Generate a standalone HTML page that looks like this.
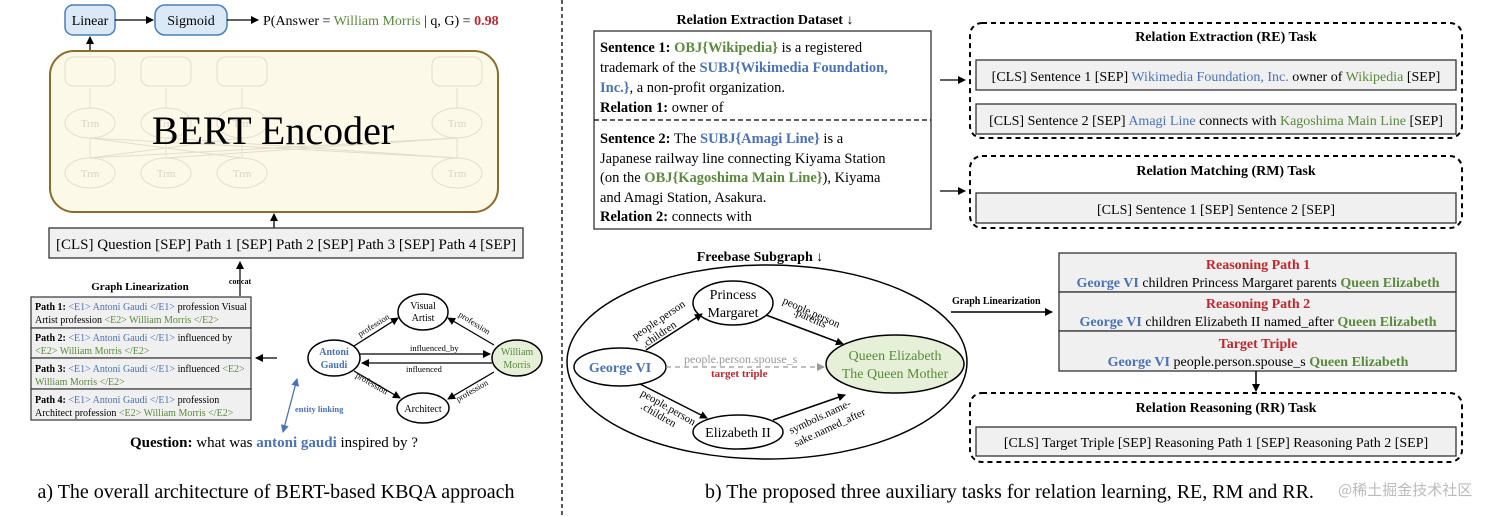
<!DOCTYPE html>
<html><head><meta charset="utf-8"><style>
html,body{margin:0;padding:0;background:#fff;}
svg{display:block;font-family:"Liberation Serif","Noto Serif CJK SC",serif;}
.b{font-weight:bold}
.bl{fill:#4a72b8}.gr{fill:#5a8a3c}.rd{fill:#c0282e}
</style></head><body>
<svg width="1512" height="517" viewBox="0 0 1512 517" xmlns="http://www.w3.org/2000/svg">
<defs>
<marker id="a" markerWidth="8" markerHeight="8" refX="7" refY="4" orient="auto" markerUnits="userSpaceOnUse"><path d="M0,0 L8,4 L0,8 z" fill="#000"/></marker>
<marker id="ag" markerWidth="8" markerHeight="8" refX="7" refY="4" orient="auto" markerUnits="userSpaceOnUse"><path d="M0,0 L8,4 L0,8 z" fill="#999"/></marker>
<marker id="ab" markerWidth="8" markerHeight="8" refX="7" refY="4" orient="auto-start-reverse" markerUnits="userSpaceOnUse"><path d="M0,0 L8,4 L0,8 z" fill="#4a72b8"/></marker>
</defs>
<rect x="65" y="5" width="50" height="30" rx="8" fill="#dbe8f5" stroke="#4a7fb5" stroke-width="1.5"/>
<text x="90" y="25" font-size="14" text-anchor="middle">Linear</text>
<rect x="155" y="5" width="72" height="30" rx="10" fill="#dbe8f5" stroke="#4a7fb5" stroke-width="1.5"/>
<text x="191" y="25" font-size="14" text-anchor="middle">Sigmoid</text>
<line x1="115" y1="20" x2="153" y2="20" stroke="#000" stroke-width="1.3" marker-end="url(#a)"/>
<line x1="227" y1="20" x2="258" y2="20" stroke="#000" stroke-width="1.3" marker-end="url(#a)"/>
<text x="263" y="25" font-size="14">P(Answer = <tspan class="gr">William Morris</tspan> | q, G) = <tspan class="rd b">0.98</tspan></text>
<line x1="90" y1="50" x2="90" y2="37" stroke="#000" stroke-width="1.3" marker-end="url(#a)"/>
<rect x="50" y="51" width="448" height="161" rx="24" fill="#fdf9e8" stroke="#8a6d2a" stroke-width="2"/>
<g stroke="#e2ddcc" fill="none" stroke-width="1">
<rect x="65" y="57" width="50" height="29" rx="8"/><rect x="141" y="57" width="50" height="29" rx="8"/><rect x="217" y="57" width="50" height="29" rx="8"/><rect x="432" y="57" width="50" height="29" rx="8"/>
<ellipse cx="90" cy="123" rx="25" ry="15"/><ellipse cx="166" cy="123" rx="25" ry="15"/><ellipse cx="242" cy="123" rx="25" ry="15"/><ellipse cx="457" cy="123" rx="25" ry="15"/>
<ellipse cx="90" cy="173" rx="25" ry="15"/><ellipse cx="166" cy="173" rx="25" ry="15"/><ellipse cx="242" cy="173" rx="25" ry="15"/><ellipse cx="457" cy="173" rx="25" ry="15"/>
<line x1="90" y1="108" x2="90" y2="88"/><line x1="166" y1="108" x2="166" y2="88"/><line x1="242" y1="108" x2="242" y2="88"/><line x1="457" y1="108" x2="457" y2="88"/>
<line x1="90" y1="158" x2="90" y2="138"/><line x1="166" y1="158" x2="166" y2="138"/><line x1="242" y1="158" x2="242" y2="138"/><line x1="457" y1="158" x2="457" y2="138"/>
<line x1="90" y1="158" x2="457" y2="138"/><line x1="457" y1="158" x2="90" y2="138"/><line x1="166" y1="158" x2="457" y2="138"/><line x1="242" y1="158" x2="90" y2="138"/><line x1="90" y1="158" x2="242" y2="138"/><line x1="457" y1="158" x2="166" y2="138"/>
</g>
<g font-size="11" fill="#d8d3c2" text-anchor="middle"><text x="90" y="127">Trm</text><text x="166" y="127">Trm</text><text x="242" y="127">Trm</text><text x="457" y="127">Trm</text><text x="90" y="177">Trm</text><text x="166" y="177">Trm</text><text x="242" y="177">Trm</text><text x="457" y="177">Trm</text></g>
<text x="273" y="144" font-size="40" text-anchor="middle">BERT Encoder</text>
<line x1="274" y1="228" x2="274" y2="214" stroke="#000" stroke-width="1.3" marker-end="url(#a)"/>
<rect x="49" y="228" width="474" height="30" fill="#f0f0f0" stroke="#333" stroke-width="1.3"/>
<text x="286" y="249" font-size="15" text-anchor="middle">[CLS] Question [SEP] Path 1 [SEP] Path 2 [SEP] Path 3 [SEP] Path 4 [SEP]</text>
<text x="240" y="284" font-size="8" class="b" text-anchor="middle">concat</text>
<line x1="240" y1="296" x2="240" y2="262" stroke="#000" stroke-width="1.2" marker-end="url(#a)"/>
<text x="140" y="290" font-size="11" class="b" text-anchor="middle">Graph Linearization</text>
<g stroke="#333" stroke-width="1.2" fill="#f0f0f0">
<rect x="31" y="297" width="220" height="31"/><rect x="31" y="328" width="220" height="30"/><rect x="31" y="358" width="220" height="31"/><rect x="31" y="389" width="220" height="31"/></g>
<g font-size="10">
<text x="35" y="310"><tspan class="b">Path 1:</tspan> <tspan class="bl">&lt;E1&gt; Antoni Gaudi &lt;/E1&gt;</tspan> profession Visual</text>
<text x="35" y="323">Artist profession <tspan class="gr">&lt;E2&gt; William Morris &lt;/E2&gt;</tspan></text>
<text x="35" y="341"><tspan class="b">Path 2:</tspan> <tspan class="bl">&lt;E1&gt; Antoni Gaudi &lt;/E1&gt;</tspan> influenced by</text>
<text x="35" y="354"><tspan class="gr">&lt;E2&gt; William Morris &lt;/E2&gt;</tspan></text>
<text x="35" y="372"><tspan class="b">Path 3:</tspan> <tspan class="bl">&lt;E1&gt; Antoni Gaudi &lt;/E1&gt;</tspan> influenced <tspan class="gr">&lt;E2&gt;</tspan></text>
<text x="35" y="385"><tspan class="gr">William Morris &lt;/E2&gt;</tspan></text>
<text x="35" y="403"><tspan class="b">Path 4:</tspan> <tspan class="bl">&lt;E1&gt; Antoni Gaudi &lt;/E1&gt;</tspan> profession</text>
<text x="35" y="416">Architect profession <tspan class="gr">&lt;E2&gt; William Morris &lt;/E2&gt;</tspan></text>
</g>
<line x1="277" y1="358" x2="256" y2="358" stroke="#000" stroke-width="1.3" marker-end="url(#a)"/>
<g stroke="#000" stroke-width="1.5" fill="#fff">
<ellipse cx="334" cy="358" rx="26" ry="18"/>
<ellipse cx="423" cy="312" rx="25" ry="18"/>
<ellipse cx="517" cy="358" rx="25" ry="18" fill="#e6f0d8"/>
<ellipse cx="423" cy="408" rx="26" ry="15"/>
</g>
<g font-size="10" text-anchor="middle">
<text x="334" y="355" class="b bl">Antoni</text><text x="334" y="368" class="b bl">Gaudi</text>
<text x="423" y="309">Visual</text><text x="423" y="321">Artist</text>
<text x="517" y="355" class="gr">William</text><text x="517" y="368" class="gr">Morris</text>
<text x="423" y="412">Architect</text>
</g>
<g stroke="#000" stroke-width="1.3" marker-end="url(#a)">
<line x1="354" y1="346" x2="398" y2="318"/>
<line x1="494" y1="345" x2="448" y2="318"/>
<line x1="360" y1="354" x2="490" y2="354"/>
<line x1="492" y1="363" x2="362" y2="363"/>
<line x1="354" y1="371" x2="400" y2="398"/>
<line x1="494" y1="372" x2="448" y2="399"/>
</g>
<g font-size="8.5">
<text transform="translate(360,337) rotate(-32)">profession</text>
<text transform="translate(458,316) rotate(32)">profession</text>
<text x="410" y="351">influenced_by</text>
<text x="406" y="372">influenced</text>
<text transform="translate(355,377) rotate(30)">profession</text>
<text transform="translate(458,402) rotate(-30)">profession</text>
</g>
<line x1="297" y1="379" x2="283" y2="432" stroke="#4a72b8" stroke-width="1.3" marker-end="url(#ab)" marker-start="url(#ab)"/>
<text x="295" y="412" font-size="8.5" class="b bl">entity linking</text>
<text x="274" y="447" font-size="15" text-anchor="middle"><tspan class="b">Question:</tspan> what was <tspan class="b bl">antoni gaudi</tspan> inspired by ?</text>
<text x="276" y="498" font-size="20" text-anchor="middle">a) The overall architecture of BERT-based KBQA approach</text>
<line x1="562" y1="0" x2="562" y2="517" stroke="#000" stroke-width="1.3" stroke-dasharray="4,3"/>
<text x="765" y="24" font-size="14" class="b" text-anchor="middle">Relation Extraction Dataset ↓</text>
<rect x="594" y="31" width="337" height="198" fill="#fff" stroke="#333" stroke-width="1.3"/>
<line x1="594" y1="120" x2="931" y2="120" stroke="#000" stroke-width="1.3" stroke-dasharray="5,3"/>
<g font-size="14.5">
<text x="600" y="52"><tspan class="b">Sentence 1:</tspan> <tspan class="b gr">OBJ{Wikipedia}</tspan> is a registered</text>
<text x="600" y="72">trademark of the <tspan class="b bl">SUBJ{Wikimedia Foundation,</tspan></text>
<text x="600" y="92"><tspan class="b bl">Inc.}</tspan>, a non-profit organization.</text>
<text x="600" y="112"><tspan class="b">Relation 1:</tspan> owner of</text>
<text x="600" y="143"><tspan class="b">Sentence 2:</tspan> The <tspan class="b bl">SUBJ{Amagi Line}</tspan> is a</text>
<text x="600" y="163">Japanese railway line connecting Kiyama Station</text>
<text x="600" y="182">(on the <tspan class="b gr">OBJ{Kagoshima Main Line}</tspan>), Kiyama</text>
<text x="600" y="202">and Amagi Station, Asakura.</text>
<text x="600" y="221"><tspan class="b">Relation 2:</tspan> connects with</text>
</g>
<line x1="940" y1="80" x2="965" y2="80" stroke="#000" stroke-width="1.3" marker-end="url(#a)"/>
<line x1="940" y1="191" x2="965" y2="191" stroke="#000" stroke-width="1.3" marker-end="url(#a)"/>
<g fill="none" stroke="#000" stroke-width="2" stroke-dasharray="5,4">
<rect x="970" y="23" width="492" height="115" rx="12"/>
<rect x="970" y="156" width="492" height="72" rx="12"/>
<rect x="970" y="393" width="492" height="69" rx="12"/>
</g>
<g fill="#f0f0f0" stroke="#333" stroke-width="1.3">
<rect x="976" y="60" width="480" height="30"/><rect x="976" y="104" width="480" height="30"/>
<rect x="976" y="193" width="480" height="30"/><rect x="976" y="427" width="480" height="29"/>
</g>
<g font-size="14" text-anchor="middle">
<text x="1226" y="41" class="b">Relation Extraction (RE) Task</text>
<text x="1216" y="81">[CLS] Sentence 1 [SEP] <tspan class="bl">Wikimedia Foundation, Inc.</tspan> owner of <tspan class="gr">Wikipedia</tspan> [SEP]</text>
<text x="1216" y="125">[CLS] Sentence 2 [SEP] <tspan class="bl">Amagi Line</tspan> connects with <tspan class="gr">Kagoshima Main Line</tspan> [SEP]</text>
<text x="1226" y="175" class="b">Relation Matching (RM) Task</text>
<text x="1216" y="214">[CLS] Sentence 1 [SEP] Sentence 2 [SEP]</text>
<text x="1226" y="412" class="b">Relation Reasoning (RR) Task</text>
<text x="1216" y="447">[CLS] Target Triple [SEP] Reasoning Path 1 [SEP] Reasoning Path 2 [SEP]</text>
</g>
<text x="760" y="261" font-size="14" class="b" text-anchor="middle">Freebase Subgraph ↓</text>
<ellipse cx="767" cy="362" rx="200" ry="97" fill="none" stroke="#000" stroke-width="1.5"/>
<g stroke="#000" stroke-width="1.5" fill="#fff">
<ellipse cx="620" cy="367" rx="46" ry="19"/>
<ellipse cx="733" cy="303" rx="40" ry="22"/>
<ellipse cx="895" cy="364" rx="69" ry="29" fill="#e6f0d8"/>
<ellipse cx="738" cy="432" rx="45" ry="17"/>
</g>
<g font-size="14" text-anchor="middle">
<text x="620" y="372" class="b bl">George VI</text>
<text x="733" y="299">Princess</text><text x="733" y="317">Margaret</text>
<text x="895" y="360" class="gr">Queen Elizabeth</text><text x="895" y="378" class="gr">The Queen Mother</text>
<text x="738" y="437">Elizabeth II</text>
</g>
<g stroke="#000" stroke-width="1.5" marker-end="url(#a)">
<line x1="646" y1="350" x2="702" y2="314"/>
<line x1="766" y1="315" x2="843" y2="344"/>
<line x1="640" y1="384" x2="707" y2="418"/>
<line x1="773" y1="420" x2="845" y2="395"/>
</g>
<line x1="666" y1="367" x2="824" y2="367" stroke="#999" stroke-width="1.3" stroke-dasharray="5,4" marker-end="url(#ag)"/>
<text x="684" y="363" font-size="12" fill="#999">people.person.spouse_s</text>
<text x="711" y="377" font-size="11" class="b rd">target triple</text>
<g font-size="11">
<text transform="translate(635,340) rotate(-34)">people.person</text>
<text transform="translate(645,348) rotate(-34)">.children</text>
<text transform="translate(782,303) rotate(24)">people.person</text>
<text transform="translate(793,314) rotate(24)">.parents</text>
<text transform="translate(640,395) rotate(30)">people.person</text>
<text transform="translate(640,408) rotate(30)">.children</text>
<text transform="translate(791,434) rotate(-25)">symbols.name-</text>
<text transform="translate(796,447) rotate(-25)">sake.named_after</text>
</g>
<text x="952" y="304" font-size="10" class="b">Graph Linearization</text>
<line x1="951" y1="312" x2="1052" y2="312" stroke="#000" stroke-width="1.5" marker-end="url(#a)"/>
<g fill="#f0f0f0" stroke="#333" stroke-width="1.3">
<rect x="1059" y="253" width="397" height="39"/><rect x="1059" y="292" width="397" height="39"/><rect x="1059" y="331" width="397" height="40"/>
</g>
<g font-size="14" text-anchor="middle">
<text x="1258" y="269" class="b rd">Reasoning Path 1</text>
<text x="1258" y="287"><tspan class="b bl">George VI</tspan> children Princess Margaret parents <tspan class="b gr">Queen Elizabeth</tspan></text>
<text x="1258" y="308" class="b rd">Reasoning Path 2</text>
<text x="1258" y="326"><tspan class="b bl">George VI</tspan> children Elizabeth II named_after <tspan class="b gr">Queen Elizabeth</tspan></text>
<text x="1258" y="348" class="b rd">Target Triple</text>
<text x="1258" y="366"><tspan class="b bl">George VI</tspan> people.person.spouse_s <tspan class="b gr">Queen Elizabeth</tspan></text>
</g>
<line x1="1256" y1="371" x2="1256" y2="391" stroke="#000" stroke-width="1.5" marker-end="url(#a)"/>
<text x="705" y="498" font-size="20">b) The proposed three auxiliary tasks for relation learning, RE, RM and RR.</text>
<text x="1338" y="495" font-size="15" fill="#bbb" font-family="'Noto Sans CJK SC',sans-serif">@稀土掘金技术社区</text>
</svg>
</body></html>
